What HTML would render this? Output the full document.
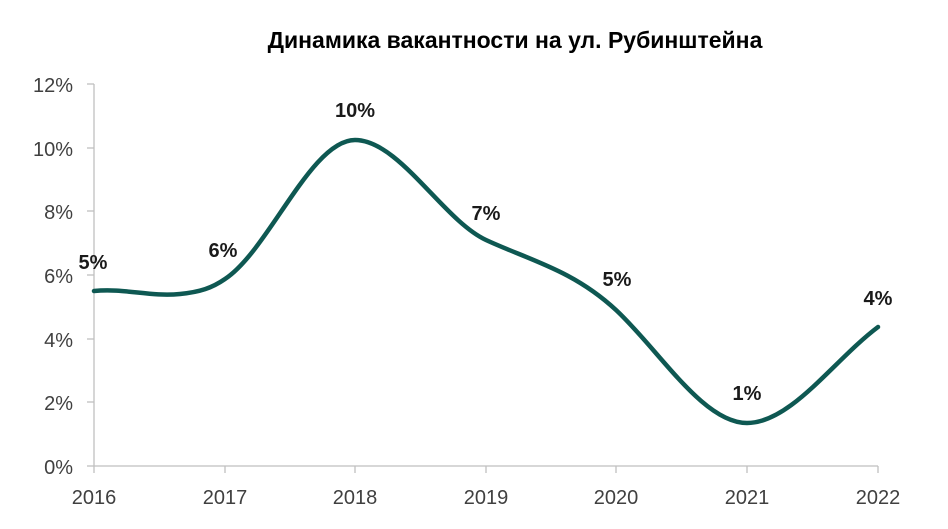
<!DOCTYPE html>
<html><head><meta charset="utf-8"><style>
body{margin:0;background:#fff;}
svg{display:block;font-family:"Liberation Sans","DejaVu Sans",sans-serif;}
</style></head><body>
<svg width="948" height="529" viewBox="0 0 948 529">
<text x="515" y="48" text-anchor="middle" font-size="23" font-weight="bold" fill="#000">Динамика вакантности на ул. Рубинштейна</text>
<g stroke="#bfbfbf" stroke-width="1.3" fill="none">
<line x1="94" y1="84" x2="94" y2="466"/>
<line x1="94" y1="466" x2="878" y2="466"/>
<line x1="87" y1="84" x2="94" y2="84"/><line x1="87" y1="148" x2="94" y2="148"/><line x1="87" y1="211" x2="94" y2="211"/><line x1="87" y1="275" x2="94" y2="275"/><line x1="87" y1="339" x2="94" y2="339"/><line x1="87" y1="402" x2="94" y2="402"/><line x1="87" y1="466" x2="94" y2="466"/>
<line x1="94" y1="466" x2="94" y2="473"/><line x1="225" y1="466" x2="225" y2="473"/><line x1="355" y1="466" x2="355" y2="473"/><line x1="486" y1="466" x2="486" y2="473"/><line x1="616" y1="466" x2="616" y2="473"/><line x1="747" y1="466" x2="747" y2="473"/><line x1="878" y1="466" x2="878" y2="473"/>
</g>
<g font-size="20" fill="#404040" text-anchor="end">
<text x="73" y="92">12%</text><text x="73" y="156">10%</text><text x="73" y="219">8%</text><text x="73" y="283">6%</text><text x="73" y="347">4%</text><text x="73" y="410">2%</text><text x="73" y="474">0%</text>
</g>
<g font-size="20" fill="#404040" text-anchor="middle">
<text x="94" y="504">2016</text><text x="225" y="504">2017</text><text x="355" y="504">2018</text><text x="486" y="504">2019</text><text x="616" y="504">2020</text><text x="747" y="504">2021</text><text x="878" y="504">2022</text>
</g>
<path d="M94,291 C125,288 150,297 180,294 C200,292 212,288 225,279 C269,250 311,140 355,140 C399,140 443,220 486,240 C529,260 573,270 616,310 C659,350 703,423 747,423 C791,423 834,360 878,327" fill="none" stroke="#0e5852" stroke-width="4.5" stroke-linecap="round"/>
<g font-size="20" font-weight="bold" fill="#1a1a1a" text-anchor="middle">
<text x="93" y="269">5%</text><text x="223" y="257">6%</text><text x="355" y="117">10%</text><text x="486" y="220">7%</text><text x="617" y="286">5%</text><text x="747" y="400">1%</text><text x="878" y="305">4%</text>
</g>
</svg>
</body></html>
